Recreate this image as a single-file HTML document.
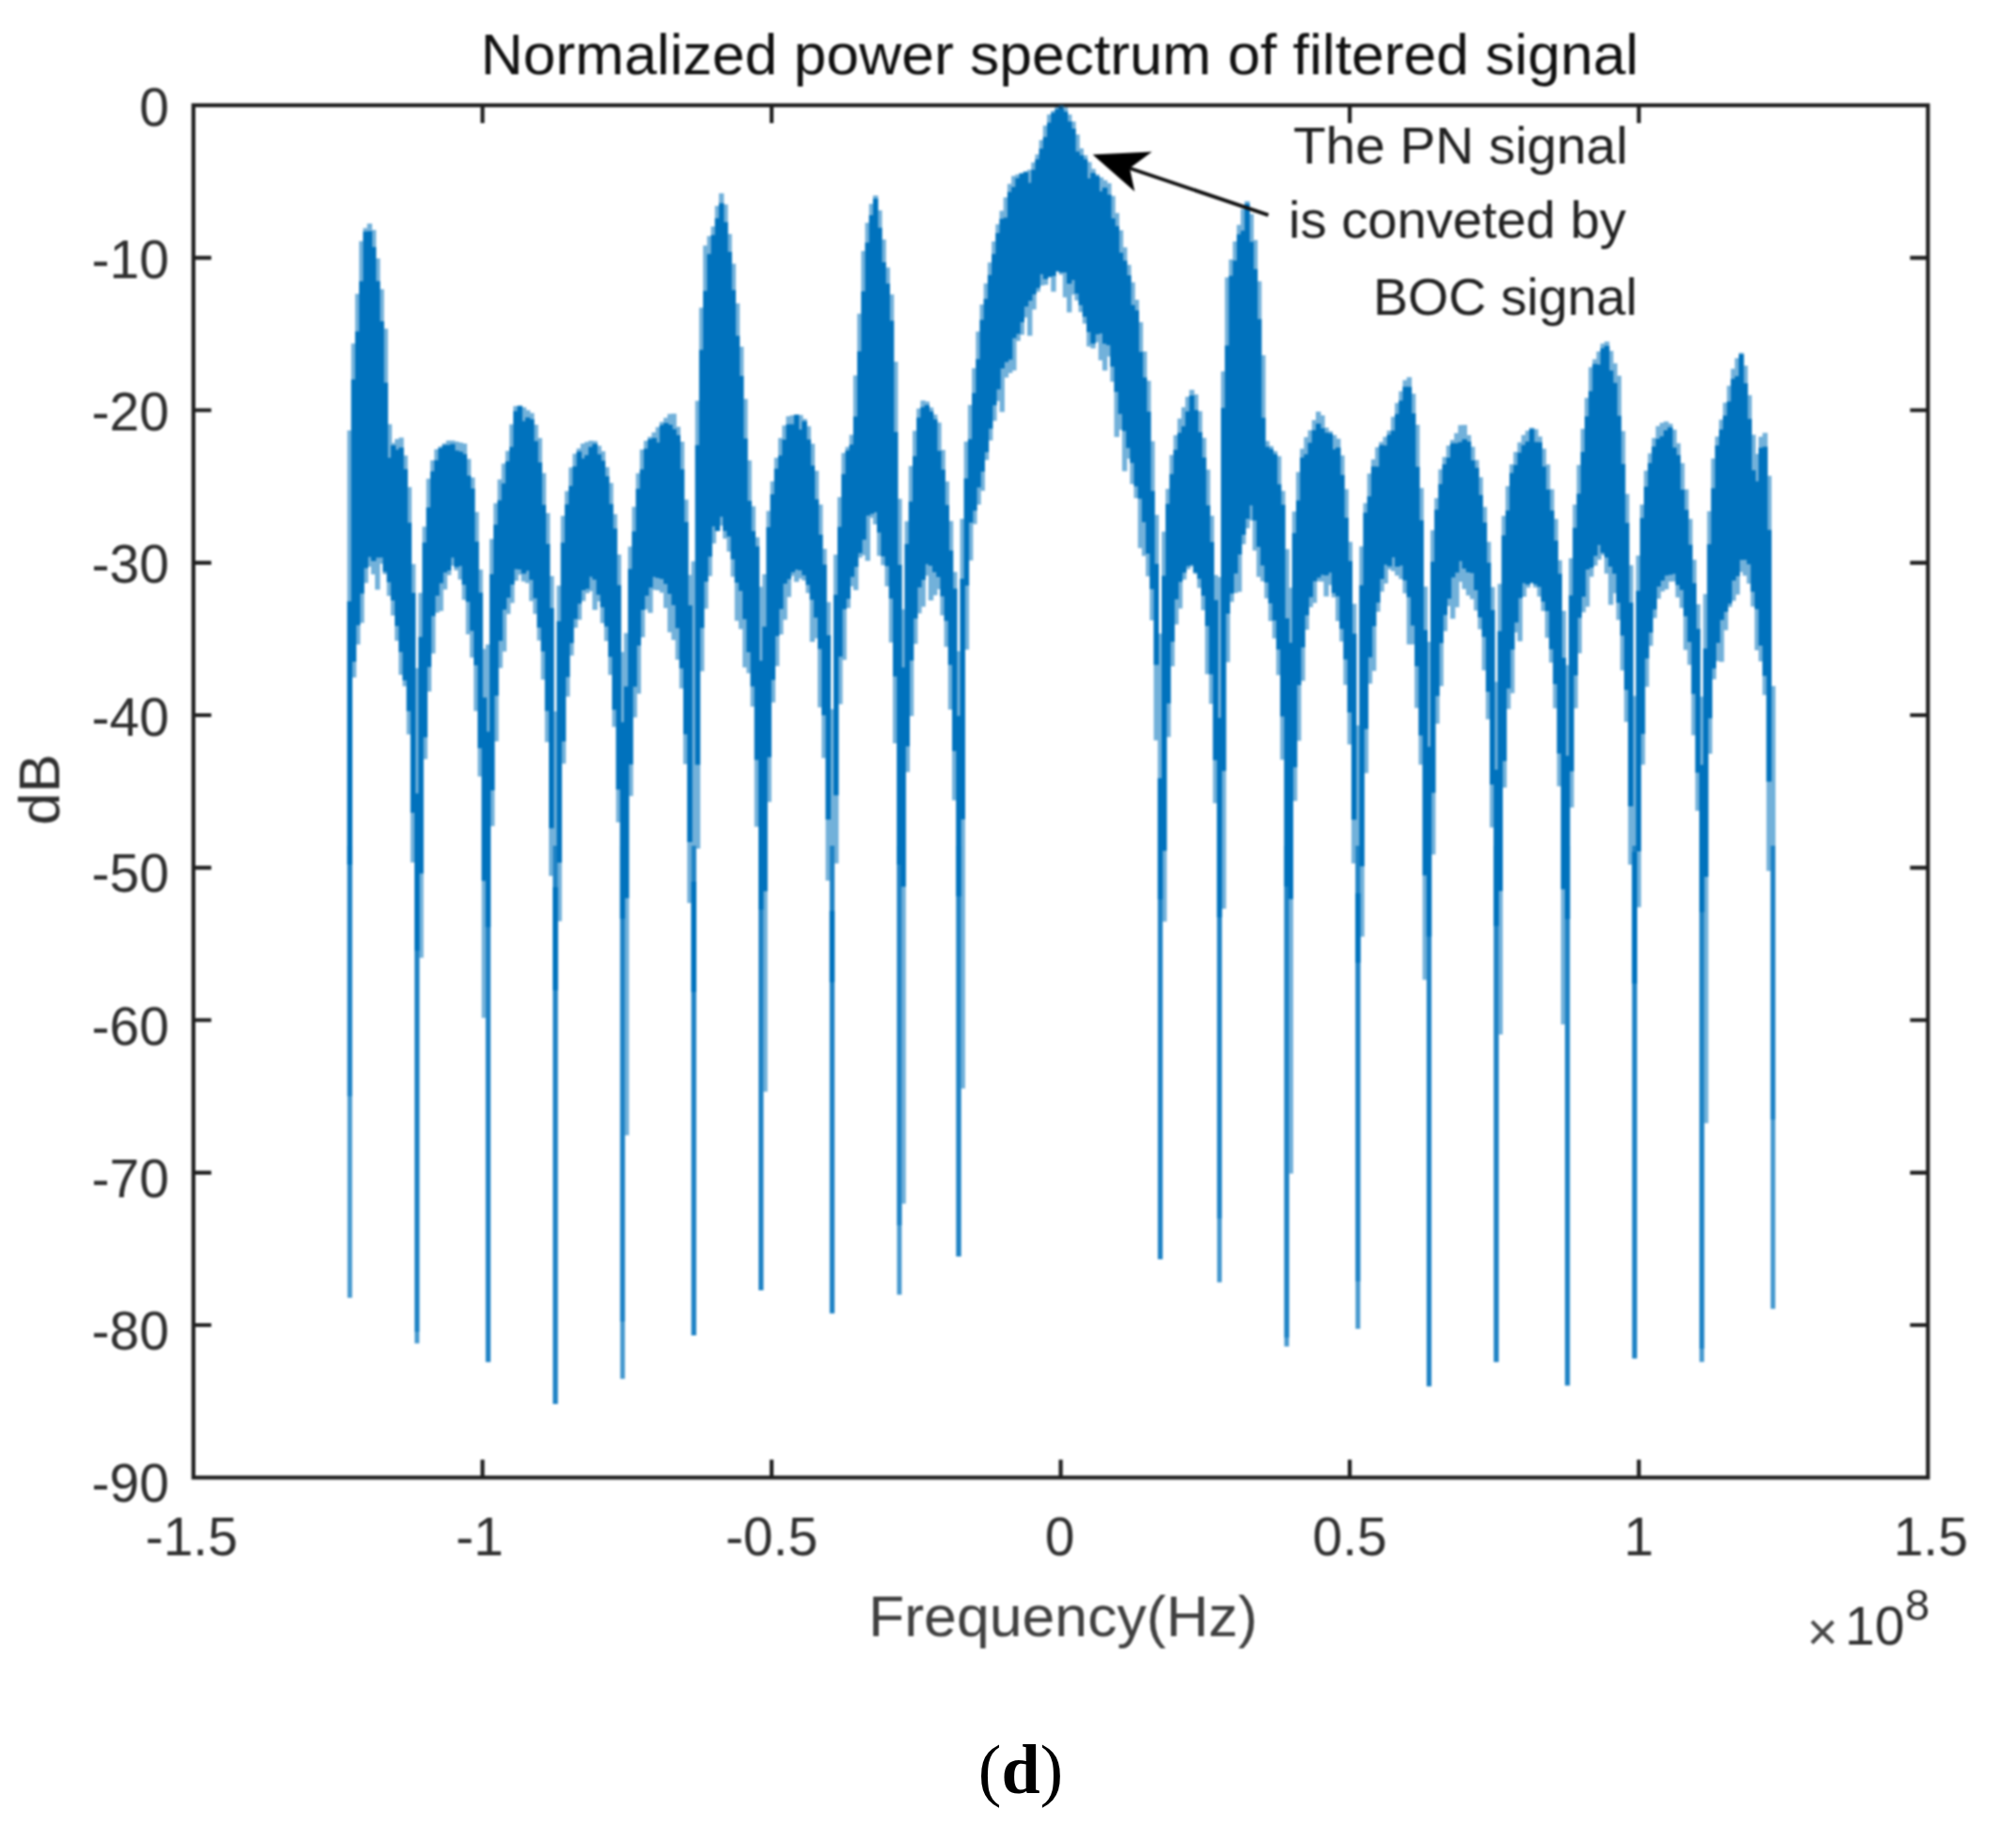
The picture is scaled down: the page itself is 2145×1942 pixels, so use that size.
<!DOCTYPE html>
<html><head><meta charset="utf-8"><title>Normalized power spectrum of filtered signal</title>
<style>html,body{margin:0;padding:0;background:#fff}body{width:2145px;height:1942px;overflow:hidden}svg{display:block}</style>
</head><body>
<svg width="2145" height="1942" viewBox="0 0 2145 1942">
<rect width="2145" height="1942" fill="#fff"/>
<defs><filter id="soft" x="0" y="0" width="100%" height="100%" filterUnits="userSpaceOnUse" color-interpolation-filters="sRGB"><feGaussianBlur stdDeviation="1.1"/></filter></defs>
<g filter="url(#soft)">
<rect width="2145" height="1800" fill="#fff"/>
<g stroke="#202020" stroke-width="4.2" fill="none" stroke-linecap="butt">
<rect x="205.8" y="112.0" width="1845.5000000000002" height="1460.3"/>
<path d="M513.4 1572.3V1553.3M513.4 112.0V131.0"/>
<path d="M821.0 1572.3V1553.3M821.0 112.0V131.0"/>
<path d="M1128.6 1572.3V1553.3M1128.6 112.0V131.0"/>
<path d="M1436.1 1572.3V1553.3M1436.1 112.0V131.0"/>
<path d="M1743.7 1572.3V1553.3M1743.7 112.0V131.0"/>
<path d="M205.8 274.3H224.8M2051.3 274.3H2032.3000000000002"/>
<path d="M205.8 436.5H224.8M2051.3 436.5H2032.3000000000002"/>
<path d="M205.8 598.8H224.8M2051.3 598.8H2032.3000000000002"/>
<path d="M205.8 761.0H224.8M2051.3 761.0H2032.3000000000002"/>
<path d="M205.8 923.3H224.8M2051.3 923.3H2032.3000000000002"/>
<path d="M205.8 1085.5H224.8M2051.3 1085.5H2032.3000000000002"/>
<path d="M205.8 1247.8H224.8M2051.3 1247.8H2032.3000000000002"/>
<path d="M205.8 1410.0H224.8M2051.3 1410.0H2032.3000000000002"/>
</g>
<g fill="#0072BD">
<g opacity="0.55">
<rect x="369.5" y="458.0" width="5.41" height="708.5"/>
<rect x="373.7" y="365.5" width="5.41" height="355.4"/>
<rect x="377.9" y="312.7" width="5.41" height="373.1"/>
<rect x="382.1" y="256.6" width="5.41" height="406.2"/>
<rect x="386.4" y="242.7" width="5.41" height="377.7"/>
<rect x="390.6" y="237.9" width="5.41" height="365.1"/>
<rect x="394.8" y="244.7" width="5.41" height="366.5"/>
<rect x="399.0" y="275.0" width="5.41" height="352.5"/>
<rect x="403.2" y="307.7" width="5.41" height="292.2"/>
<rect x="407.4" y="349.7" width="5.41" height="261.3"/>
<rect x="411.6" y="451.4" width="5.41" height="182.7"/>
<rect x="415.8" y="471.4" width="5.41" height="183.6"/>
<rect x="420.0" y="467.2" width="5.41" height="214.6"/>
<rect x="424.2" y="465.6" width="5.41" height="252.5"/>
<rect x="428.4" y="484.7" width="5.41" height="245.6"/>
<rect x="432.6" y="518.3" width="5.41" height="263.2"/>
<rect x="436.8" y="600.2" width="5.41" height="317.6"/>
<rect x="441.0" y="711.0" width="5.41" height="706.1"/>
<rect x="445.2" y="630.9" width="5.41" height="388.3"/>
<rect x="449.4" y="560.4" width="5.41" height="247.4"/>
<rect x="453.6" y="509.4" width="5.41" height="226.5"/>
<rect x="457.9" y="489.8" width="5.41" height="205.6"/>
<rect x="462.1" y="478.1" width="5.41" height="173.9"/>
<rect x="466.3" y="475.0" width="5.41" height="175.2"/>
<rect x="470.5" y="471.8" width="5.41" height="155.5"/>
<rect x="474.7" y="468.8" width="5.41" height="143.2"/>
<rect x="478.9" y="468.8" width="5.41" height="133.2"/>
<rect x="483.1" y="469.9" width="5.41" height="137.0"/>
<rect x="487.3" y="470.9" width="5.41" height="145.8"/>
<rect x="491.5" y="472.0" width="5.41" height="166.3"/>
<rect x="495.7" y="488.3" width="5.41" height="186.7"/>
<rect x="499.9" y="508.1" width="5.41" height="191.6"/>
<rect x="504.1" y="544.8" width="5.41" height="211.8"/>
<rect x="508.3" y="606.1" width="5.41" height="220.2"/>
<rect x="512.5" y="690.5" width="5.41" height="392.7"/>
<rect x="516.7" y="685.8" width="5.41" height="763.5"/>
<rect x="520.9" y="573.5" width="5.41" height="305.6"/>
<rect x="525.1" y="535.5" width="5.41" height="253.4"/>
<rect x="529.4" y="510.2" width="5.41" height="200.6"/>
<rect x="533.6" y="493.3" width="5.41" height="200.0"/>
<rect x="537.8" y="479.8" width="5.41" height="173.6"/>
<rect x="542.0" y="451.5" width="5.41" height="190.1"/>
<rect x="546.2" y="432.1" width="5.41" height="185.9"/>
<rect x="550.4" y="431.4" width="5.41" height="180.1"/>
<rect x="554.6" y="433.4" width="5.41" height="185.3"/>
<rect x="558.8" y="436.5" width="5.41" height="184.0"/>
<rect x="563.0" y="439.5" width="5.41" height="200.1"/>
<rect x="567.2" y="451.9" width="5.41" height="201.4"/>
<rect x="571.4" y="466.1" width="5.41" height="215.5"/>
<rect x="575.6" y="503.4" width="5.41" height="219.8"/>
<rect x="579.8" y="546.0" width="5.41" height="243.7"/>
<rect x="584.0" y="613.0" width="5.41" height="319.1"/>
<rect x="588.2" y="757.0" width="5.41" height="737.0"/>
<rect x="592.4" y="623.2" width="5.41" height="357.1"/>
<rect x="596.7" y="548.9" width="5.41" height="263.7"/>
<rect x="600.9" y="522.6" width="5.41" height="218.7"/>
<rect x="605.1" y="497.4" width="5.41" height="200.2"/>
<rect x="609.3" y="482.8" width="5.41" height="185.2"/>
<rect x="613.5" y="477.2" width="5.41" height="182.3"/>
<rect x="617.7" y="472.0" width="5.41" height="167.6"/>
<rect x="621.9" y="470.3" width="5.41" height="160.9"/>
<rect x="626.1" y="468.9" width="5.41" height="160.2"/>
<rect x="630.3" y="469.3" width="5.41" height="179.7"/>
<rect x="634.5" y="474.3" width="5.41" height="165.7"/>
<rect x="638.7" y="480.2" width="5.41" height="182.9"/>
<rect x="642.9" y="497.1" width="5.41" height="185.0"/>
<rect x="647.1" y="513.9" width="5.41" height="204.3"/>
<rect x="651.3" y="547.1" width="5.41" height="226.4"/>
<rect x="655.5" y="590.1" width="5.41" height="285.0"/>
<rect x="659.7" y="693.8" width="5.41" height="712.4"/>
<rect x="663.9" y="673.7" width="5.41" height="534.4"/>
<rect x="668.2" y="581.6" width="5.41" height="265.5"/>
<rect x="672.4" y="539.3" width="5.41" height="224.1"/>
<rect x="676.6" y="503.6" width="5.41" height="234.6"/>
<rect x="680.8" y="478.3" width="5.41" height="199.8"/>
<rect x="685.0" y="469.0" width="5.41" height="179.5"/>
<rect x="689.2" y="464.8" width="5.41" height="187.4"/>
<rect x="693.4" y="460.1" width="5.41" height="167.6"/>
<rect x="697.6" y="454.5" width="5.41" height="173.6"/>
<rect x="701.8" y="448.9" width="5.41" height="181.8"/>
<rect x="706.0" y="444.6" width="5.41" height="202.4"/>
<rect x="710.2" y="440.5" width="5.41" height="232.3"/>
<rect x="714.4" y="440.2" width="5.41" height="240.8"/>
<rect x="718.6" y="454.1" width="5.41" height="247.9"/>
<rect x="722.8" y="470.0" width="5.41" height="262.6"/>
<rect x="727.0" y="531.6" width="5.41" height="281.5"/>
<rect x="731.2" y="611.8" width="5.41" height="349.1"/>
<rect x="735.5" y="597.3" width="5.41" height="823.7"/>
<rect x="739.7" y="426.5" width="5.41" height="476.5"/>
<rect x="743.9" y="327.4" width="5.41" height="386.9"/>
<rect x="748.1" y="261.3" width="5.41" height="386.4"/>
<rect x="752.3" y="251.2" width="5.41" height="361.9"/>
<rect x="756.5" y="241.0" width="5.41" height="337.3"/>
<rect x="760.7" y="219.1" width="5.41" height="346.1"/>
<rect x="764.9" y="205.7" width="5.41" height="353.7"/>
<rect x="769.1" y="217.5" width="5.41" height="355.7"/>
<rect x="773.3" y="249.0" width="5.41" height="338.0"/>
<rect x="777.5" y="280.6" width="5.41" height="333.1"/>
<rect x="781.7" y="322.8" width="5.41" height="337.8"/>
<rect x="785.9" y="368.9" width="5.41" height="300.5"/>
<rect x="790.1" y="424.5" width="5.41" height="285.7"/>
<rect x="794.3" y="489.9" width="5.41" height="226.5"/>
<rect x="798.5" y="538.7" width="5.41" height="213.2"/>
<rect x="802.7" y="571.7" width="5.41" height="308.1"/>
<rect x="807.0" y="624.4" width="5.41" height="748.6"/>
<rect x="811.2" y="611.0" width="5.41" height="550.7"/>
<rect x="815.4" y="543.7" width="5.41" height="309.7"/>
<rect x="819.6" y="512.2" width="5.41" height="235.3"/>
<rect x="823.8" y="487.1" width="5.41" height="221.7"/>
<rect x="828.0" y="466.1" width="5.41" height="209.0"/>
<rect x="832.2" y="452.7" width="5.41" height="206.8"/>
<rect x="836.4" y="442.9" width="5.41" height="192.4"/>
<rect x="840.6" y="441.9" width="5.41" height="170.9"/>
<rect x="844.8" y="441.0" width="5.41" height="178.2"/>
<rect x="849.0" y="441.6" width="5.41" height="174.0"/>
<rect x="853.2" y="445.8" width="5.41" height="171.9"/>
<rect x="857.4" y="453.5" width="5.41" height="177.6"/>
<rect x="861.6" y="472.2" width="5.41" height="210.8"/>
<rect x="865.8" y="500.9" width="5.41" height="178.4"/>
<rect x="870.0" y="536.9" width="5.41" height="215.8"/>
<rect x="874.2" y="584.0" width="5.41" height="222.7"/>
<rect x="878.5" y="640.7" width="5.41" height="296.4"/>
<rect x="882.7" y="754.6" width="5.41" height="642.9"/>
<rect x="886.9" y="590.2" width="5.41" height="328.6"/>
<rect x="891.1" y="529.0" width="5.41" height="220.3"/>
<rect x="895.3" y="482.0" width="5.41" height="220.2"/>
<rect x="899.5" y="475.6" width="5.41" height="171.4"/>
<rect x="903.7" y="462.6" width="5.41" height="161.3"/>
<rect x="907.9" y="399.5" width="5.41" height="228.4"/>
<rect x="912.1" y="333.8" width="5.41" height="259.5"/>
<rect x="916.3" y="267.1" width="5.41" height="323.7"/>
<rect x="920.5" y="237.1" width="5.41" height="359.7"/>
<rect x="924.7" y="216.9" width="5.41" height="334.1"/>
<rect x="928.9" y="208.0" width="5.41" height="350.0"/>
<rect x="933.1" y="223.8" width="5.41" height="367.7"/>
<rect x="937.3" y="254.8" width="5.41" height="346.6"/>
<rect x="941.5" y="284.6" width="5.41" height="339.3"/>
<rect x="945.8" y="313.3" width="5.41" height="370.4"/>
<rect x="950.0" y="384.9" width="5.41" height="406.1"/>
<rect x="954.2" y="530.8" width="5.41" height="773.0"/>
<rect x="958.4" y="648.4" width="5.41" height="632.4"/>
<rect x="962.6" y="554.7" width="5.41" height="266.9"/>
<rect x="966.8" y="495.8" width="5.41" height="266.2"/>
<rect x="971.0" y="458.4" width="5.41" height="226.8"/>
<rect x="975.2" y="434.7" width="5.41" height="218.0"/>
<rect x="979.4" y="426.2" width="5.41" height="219.4"/>
<rect x="983.6" y="427.3" width="5.41" height="185.3"/>
<rect x="987.8" y="433.6" width="5.41" height="205.3"/>
<rect x="992.0" y="441.2" width="5.41" height="192.2"/>
<rect x="996.2" y="449.6" width="5.41" height="177.3"/>
<rect x="1000.4" y="478.8" width="5.41" height="176.0"/>
<rect x="1004.6" y="512.3" width="5.41" height="176.0"/>
<rect x="1008.8" y="554.4" width="5.41" height="200.7"/>
<rect x="1013.0" y="608.6" width="5.41" height="243.0"/>
<rect x="1017.3" y="693.0" width="5.41" height="644.1"/>
<rect x="1021.5" y="552.1" width="5.41" height="606.2"/>
<rect x="1025.7" y="469.9" width="5.41" height="221.4"/>
<rect x="1029.9" y="430.9" width="5.41" height="165.5"/>
<rect x="1034.1" y="391.8" width="5.41" height="165.9"/>
<rect x="1038.3" y="352.8" width="5.41" height="184.2"/>
<rect x="1042.5" y="324.0" width="5.41" height="198.3"/>
<rect x="1046.7" y="301.6" width="5.41" height="187.9"/>
<rect x="1050.9" y="279.3" width="5.41" height="189.4"/>
<rect x="1055.1" y="256.9" width="5.41" height="190.9"/>
<rect x="1059.3" y="238.6" width="5.41" height="188.2"/>
<rect x="1063.5" y="224.3" width="5.41" height="214.1"/>
<rect x="1067.7" y="210.0" width="5.41" height="191.7"/>
<rect x="1071.9" y="195.7" width="5.41" height="201.3"/>
<rect x="1076.1" y="187.2" width="5.41" height="207.0"/>
<rect x="1080.3" y="185.6" width="5.41" height="177.2"/>
<rect x="1084.5" y="183.9" width="5.41" height="172.3"/>
<rect x="1088.8" y="182.3" width="5.41" height="155.5"/>
<rect x="1093.0" y="180.6" width="5.41" height="176.7"/>
<rect x="1097.2" y="172.8" width="5.41" height="156.5"/>
<rect x="1101.4" y="164.3" width="5.41" height="146.2"/>
<rect x="1105.6" y="149.0" width="5.41" height="154.8"/>
<rect x="1109.8" y="133.6" width="5.41" height="169.5"/>
<rect x="1114.0" y="121.8" width="5.41" height="169.8"/>
<rect x="1118.2" y="117.9" width="5.41" height="192.5"/>
<rect x="1122.4" y="113.9" width="5.41" height="175.2"/>
<rect x="1126.6" y="112.0" width="5.41" height="180.3"/>
<rect x="1130.8" y="114.4" width="5.41" height="202.0"/>
<rect x="1135.0" y="121.8" width="5.41" height="210.6"/>
<rect x="1139.2" y="129.3" width="5.41" height="184.2"/>
<rect x="1143.4" y="143.1" width="5.41" height="176.6"/>
<rect x="1147.6" y="157.9" width="5.41" height="174.2"/>
<rect x="1151.8" y="165.2" width="5.41" height="179.2"/>
<rect x="1156.1" y="172.4" width="5.41" height="196.3"/>
<rect x="1160.3" y="179.7" width="5.41" height="191.0"/>
<rect x="1164.5" y="185.5" width="5.41" height="178.8"/>
<rect x="1168.7" y="188.7" width="5.41" height="194.7"/>
<rect x="1172.9" y="191.8" width="5.41" height="202.5"/>
<rect x="1177.1" y="195.0" width="5.41" height="184.4"/>
<rect x="1181.3" y="208.5" width="5.41" height="197.7"/>
<rect x="1185.5" y="226.7" width="5.41" height="238.3"/>
<rect x="1189.7" y="245.0" width="5.41" height="212.4"/>
<rect x="1193.9" y="263.2" width="5.41" height="238.2"/>
<rect x="1198.1" y="281.8" width="5.41" height="206.3"/>
<rect x="1202.3" y="300.4" width="5.41" height="214.7"/>
<rect x="1206.5" y="319.0" width="5.41" height="211.1"/>
<rect x="1210.7" y="342.8" width="5.41" height="240.4"/>
<rect x="1214.9" y="374.0" width="5.41" height="217.6"/>
<rect x="1219.1" y="405.2" width="5.41" height="208.1"/>
<rect x="1223.3" y="469.5" width="5.41" height="190.6"/>
<rect x="1227.6" y="547.9" width="5.41" height="239.9"/>
<rect x="1231.8" y="674.2" width="5.41" height="665.8"/>
<rect x="1236.0" y="565.7" width="5.41" height="415.0"/>
<rect x="1240.2" y="520.2" width="5.41" height="264.1"/>
<rect x="1244.4" y="484.1" width="5.41" height="224.9"/>
<rect x="1248.6" y="463.1" width="5.41" height="201.4"/>
<rect x="1252.8" y="445.4" width="5.41" height="202.1"/>
<rect x="1257.0" y="433.4" width="5.41" height="183.3"/>
<rect x="1261.2" y="422.2" width="5.41" height="183.5"/>
<rect x="1265.4" y="414.8" width="5.41" height="188.0"/>
<rect x="1269.6" y="419.7" width="5.41" height="191.0"/>
<rect x="1273.8" y="437.5" width="5.41" height="188.1"/>
<rect x="1278.0" y="465.9" width="5.41" height="183.4"/>
<rect x="1282.2" y="499.7" width="5.41" height="217.7"/>
<rect x="1286.4" y="548.8" width="5.41" height="200.2"/>
<rect x="1290.6" y="611.9" width="5.41" height="242.8"/>
<rect x="1294.8" y="614.0" width="5.41" height="682.6"/>
<rect x="1299.1" y="395.2" width="5.41" height="571.8"/>
<rect x="1303.3" y="295.2" width="5.41" height="409.4"/>
<rect x="1307.5" y="276.1" width="5.41" height="364.4"/>
<rect x="1311.7" y="256.9" width="5.41" height="374.2"/>
<rect x="1315.9" y="239.3" width="5.41" height="390.5"/>
<rect x="1320.1" y="222.4" width="5.41" height="356.7"/>
<rect x="1324.3" y="214.0" width="5.41" height="348.2"/>
<rect x="1328.5" y="227.8" width="5.41" height="326.0"/>
<rect x="1332.7" y="255.4" width="5.41" height="330.4"/>
<rect x="1336.9" y="299.3" width="5.41" height="314.6"/>
<rect x="1341.1" y="378.0" width="5.41" height="240.6"/>
<rect x="1345.3" y="469.3" width="5.41" height="167.4"/>
<rect x="1349.5" y="474.7" width="5.41" height="186.2"/>
<rect x="1353.7" y="480.0" width="5.41" height="199.4"/>
<rect x="1357.9" y="485.4" width="5.41" height="233.0"/>
<rect x="1362.1" y="522.4" width="5.41" height="286.1"/>
<rect x="1366.4" y="584.3" width="5.41" height="839.0"/>
<rect x="1370.6" y="625.4" width="5.41" height="623.4"/>
<rect x="1374.8" y="544.3" width="5.41" height="308.0"/>
<rect x="1379.0" y="502.3" width="5.41" height="286.0"/>
<rect x="1383.2" y="477.5" width="5.41" height="247.0"/>
<rect x="1387.4" y="465.2" width="5.41" height="204.9"/>
<rect x="1391.6" y="457.8" width="5.41" height="188.3"/>
<rect x="1395.8" y="447.0" width="5.41" height="194.6"/>
<rect x="1400.0" y="438.0" width="5.41" height="180.7"/>
<rect x="1404.2" y="442.0" width="5.41" height="176.9"/>
<rect x="1408.4" y="455.0" width="5.41" height="179.7"/>
<rect x="1412.6" y="458.9" width="5.41" height="163.6"/>
<rect x="1416.8" y="462.9" width="5.41" height="172.7"/>
<rect x="1421.0" y="466.8" width="5.41" height="194.1"/>
<rect x="1425.2" y="484.6" width="5.41" height="198.0"/>
<rect x="1429.4" y="520.5" width="5.41" height="208.3"/>
<rect x="1433.6" y="576.6" width="5.41" height="215.6"/>
<rect x="1437.9" y="642.5" width="5.41" height="276.3"/>
<rect x="1442.1" y="771.9" width="5.41" height="591.6"/>
<rect x="1446.3" y="581.4" width="5.41" height="415.3"/>
<rect x="1450.5" y="535.4" width="5.41" height="287.3"/>
<rect x="1454.7" y="503.9" width="5.41" height="223.6"/>
<rect x="1458.9" y="488.8" width="5.41" height="225.1"/>
<rect x="1463.1" y="475.9" width="5.41" height="175.1"/>
<rect x="1467.3" y="470.3" width="5.41" height="159.3"/>
<rect x="1471.5" y="464.8" width="5.41" height="156.1"/>
<rect x="1475.7" y="458.2" width="5.41" height="147.6"/>
<rect x="1479.9" y="443.5" width="5.41" height="164.2"/>
<rect x="1484.1" y="428.8" width="5.41" height="183.7"/>
<rect x="1488.3" y="416.3" width="5.41" height="199.9"/>
<rect x="1492.5" y="404.5" width="5.41" height="226.9"/>
<rect x="1496.7" y="401.3" width="5.41" height="284.4"/>
<rect x="1500.9" y="418.9" width="5.41" height="266.8"/>
<rect x="1505.1" y="452.0" width="5.41" height="301.4"/>
<rect x="1509.4" y="519.3" width="5.41" height="294.4"/>
<rect x="1513.6" y="624.2" width="5.41" height="418.4"/>
<rect x="1517.8" y="683.0" width="5.41" height="792.2"/>
<rect x="1522.0" y="564.2" width="5.41" height="345.1"/>
<rect x="1526.2" y="530.1" width="5.41" height="240.0"/>
<rect x="1530.4" y="499.4" width="5.41" height="230.7"/>
<rect x="1534.6" y="486.3" width="5.41" height="185.3"/>
<rect x="1538.8" y="474.1" width="5.41" height="170.8"/>
<rect x="1543.0" y="468.1" width="5.41" height="190.3"/>
<rect x="1547.2" y="460.9" width="5.41" height="185.3"/>
<rect x="1551.4" y="452.4" width="5.41" height="166.7"/>
<rect x="1555.6" y="452.2" width="5.41" height="174.6"/>
<rect x="1559.8" y="463.0" width="5.41" height="170.6"/>
<rect x="1564.0" y="475.4" width="5.41" height="162.1"/>
<rect x="1568.2" y="489.5" width="5.41" height="160.1"/>
<rect x="1572.4" y="507.8" width="5.41" height="161.8"/>
<rect x="1576.7" y="539.4" width="5.41" height="173.9"/>
<rect x="1580.9" y="576.6" width="5.41" height="188.8"/>
<rect x="1585.1" y="624.7" width="5.41" height="255.8"/>
<rect x="1589.3" y="725.5" width="5.41" height="723.8"/>
<rect x="1593.5" y="621.3" width="5.41" height="479.5"/>
<rect x="1597.7" y="548.9" width="5.41" height="289.2"/>
<rect x="1601.9" y="517.3" width="5.41" height="237.1"/>
<rect x="1606.1" y="494.1" width="5.41" height="243.5"/>
<rect x="1610.3" y="480.9" width="5.41" height="192.1"/>
<rect x="1614.5" y="470.7" width="5.41" height="211.7"/>
<rect x="1618.7" y="462.9" width="5.41" height="172.1"/>
<rect x="1622.9" y="458.3" width="5.41" height="167.0"/>
<rect x="1627.1" y="455.1" width="5.41" height="165.5"/>
<rect x="1631.3" y="456.7" width="5.41" height="168.5"/>
<rect x="1635.5" y="464.5" width="5.41" height="170.3"/>
<rect x="1639.7" y="477.4" width="5.41" height="172.8"/>
<rect x="1643.9" y="494.2" width="5.41" height="184.5"/>
<rect x="1648.2" y="520.6" width="5.41" height="184.5"/>
<rect x="1652.4" y="552.2" width="5.41" height="201.5"/>
<rect x="1656.6" y="596.2" width="5.41" height="240.5"/>
<rect x="1660.8" y="650.0" width="5.41" height="440.1"/>
<rect x="1665.0" y="707.7" width="5.41" height="766.6"/>
<rect x="1669.2" y="594.0" width="5.41" height="265.3"/>
<rect x="1673.4" y="536.9" width="5.41" height="216.8"/>
<rect x="1677.6" y="494.8" width="5.41" height="200.4"/>
<rect x="1681.8" y="456.3" width="5.41" height="195.2"/>
<rect x="1686.0" y="423.4" width="5.41" height="222.2"/>
<rect x="1690.2" y="390.7" width="5.41" height="223.0"/>
<rect x="1694.4" y="382.3" width="5.41" height="219.6"/>
<rect x="1698.6" y="374.0" width="5.41" height="221.5"/>
<rect x="1702.8" y="365.6" width="5.41" height="225.0"/>
<rect x="1707.0" y="363.5" width="5.41" height="246.9"/>
<rect x="1711.2" y="373.4" width="5.41" height="270.2"/>
<rect x="1715.4" y="386.6" width="5.41" height="244.7"/>
<rect x="1719.7" y="399.8" width="5.41" height="259.9"/>
<rect x="1723.9" y="458.7" width="5.41" height="254.7"/>
<rect x="1728.1" y="525.6" width="5.41" height="242.6"/>
<rect x="1732.3" y="601.4" width="5.41" height="318.7"/>
<rect x="1736.5" y="740.5" width="5.41" height="705.0"/>
<rect x="1740.7" y="591.2" width="5.41" height="374.2"/>
<rect x="1744.9" y="536.9" width="5.41" height="276.8"/>
<rect x="1749.1" y="500.8" width="5.41" height="230.0"/>
<rect x="1753.3" y="482.4" width="5.41" height="204.9"/>
<rect x="1757.5" y="466.1" width="5.41" height="191.6"/>
<rect x="1761.7" y="453.4" width="5.41" height="183.7"/>
<rect x="1765.9" y="449.9" width="5.41" height="179.5"/>
<rect x="1770.1" y="448.5" width="5.41" height="178.6"/>
<rect x="1774.3" y="450.9" width="5.41" height="168.0"/>
<rect x="1778.5" y="457.2" width="5.41" height="161.5"/>
<rect x="1782.7" y="471.7" width="5.41" height="164.0"/>
<rect x="1787.0" y="492.8" width="5.41" height="154.1"/>
<rect x="1791.2" y="520.7" width="5.41" height="170.9"/>
<rect x="1795.4" y="552.2" width="5.41" height="155.3"/>
<rect x="1799.6" y="595.6" width="5.41" height="186.8"/>
<rect x="1803.8" y="643.0" width="5.41" height="219.8"/>
<rect x="1808.0" y="741.3" width="5.41" height="693.8"/>
<rect x="1812.2" y="632.1" width="5.41" height="563.1"/>
<rect x="1816.4" y="544.0" width="5.41" height="258.1"/>
<rect x="1820.6" y="487.9" width="5.41" height="234.9"/>
<rect x="1824.8" y="464.5" width="5.41" height="239.0"/>
<rect x="1829.0" y="446.5" width="5.41" height="257.8"/>
<rect x="1833.2" y="428.5" width="5.41" height="242.1"/>
<rect x="1837.4" y="410.5" width="5.41" height="235.5"/>
<rect x="1841.6" y="392.4" width="5.41" height="246.9"/>
<rect x="1845.8" y="381.1" width="5.41" height="251.6"/>
<rect x="1850.0" y="375.4" width="5.41" height="233.3"/>
<rect x="1854.2" y="389.1" width="5.41" height="223.5"/>
<rect x="1858.5" y="420.5" width="5.41" height="200.6"/>
<rect x="1862.7" y="462.6" width="5.41" height="182.9"/>
<rect x="1866.9" y="483.0" width="5.41" height="208.9"/>
<rect x="1871.1" y="464.7" width="5.41" height="239.1"/>
<rect x="1875.3" y="460.6" width="5.41" height="279.0"/>
<rect x="1879.5" y="506.3" width="5.41" height="420.5"/>
<rect x="1883.7" y="730.0" width="5.41" height="461.3"/>
</g>
<g opacity="0.72">
<rect x="369.7" y="900.0" width="5" height="481.0"/>
<rect x="441.2" y="900.0" width="5" height="529.5"/>
<rect x="516.9" y="900.0" width="5" height="549.3"/>
<rect x="588.4" y="900.0" width="5" height="594.0"/>
<rect x="659.9" y="900.0" width="5" height="567.2"/>
<rect x="735.7" y="900.0" width="5" height="521.0"/>
<rect x="807.2" y="900.0" width="5" height="473.0"/>
<rect x="882.9" y="900.0" width="5" height="497.5"/>
<rect x="954.4" y="900.0" width="5" height="477.7"/>
<rect x="1017.5" y="900.0" width="5" height="437.0"/>
<rect x="1232.0" y="900.0" width="5" height="440.0"/>
<rect x="1295.0" y="900.0" width="5" height="464.5"/>
<rect x="1366.5" y="900.0" width="5" height="532.8"/>
<rect x="1442.3" y="900.0" width="5" height="514.0"/>
<rect x="1518.0" y="900.0" width="5" height="575.2"/>
<rect x="1589.5" y="900.0" width="5" height="549.3"/>
<rect x="1665.2" y="900.0" width="5" height="574.3"/>
<rect x="1736.7" y="900.0" width="5" height="545.5"/>
<rect x="1808.2" y="900.0" width="5" height="549.3"/>
<rect x="1883.9" y="900.0" width="5" height="492.7"/>
</g>
<rect x="369.5" y="639.9" width="5.41" height="280.1"/>
<rect x="373.7" y="403.8" width="5.41" height="300.3"/>
<rect x="377.9" y="352.7" width="5.41" height="312.6"/>
<rect x="382.1" y="299.3" width="5.41" height="332.3"/>
<rect x="386.4" y="246.4" width="5.41" height="358.1"/>
<rect x="390.6" y="246.1" width="5.41" height="346.6"/>
<rect x="394.8" y="262.9" width="5.41" height="334.1"/>
<rect x="399.0" y="299.2" width="5.41" height="294.1"/>
<rect x="403.2" y="341.9" width="5.41" height="251.3"/>
<rect x="407.4" y="407.3" width="5.41" height="201.1"/>
<rect x="411.6" y="487.1" width="5.41" height="132.4"/>
<rect x="415.8" y="473.9" width="5.41" height="165.0"/>
<rect x="420.0" y="478.6" width="5.41" height="187.5"/>
<rect x="424.2" y="476.3" width="5.41" height="217.5"/>
<rect x="428.4" y="499.3" width="5.41" height="224.6"/>
<rect x="432.6" y="556.3" width="5.41" height="200.4"/>
<rect x="436.8" y="630.9" width="5.41" height="233.9"/>
<rect x="441.0" y="844.3" width="5.41" height="167.3"/>
<rect x="445.2" y="677.8" width="5.41" height="251.7"/>
<rect x="449.4" y="577.4" width="5.41" height="207.1"/>
<rect x="453.6" y="540.0" width="5.41" height="169.7"/>
<rect x="457.9" y="501.6" width="5.41" height="153.9"/>
<rect x="462.1" y="489.8" width="5.41" height="144.1"/>
<rect x="466.3" y="476.9" width="5.41" height="143.7"/>
<rect x="470.5" y="473.7" width="5.41" height="135.5"/>
<rect x="474.7" y="473.6" width="5.41" height="133.4"/>
<rect x="478.9" y="472.5" width="5.41" height="120.8"/>
<rect x="483.1" y="479.5" width="5.41" height="123.9"/>
<rect x="487.3" y="480.6" width="5.41" height="121.6"/>
<rect x="491.5" y="483.3" width="5.41" height="138.9"/>
<rect x="495.7" y="506.2" width="5.41" height="134.2"/>
<rect x="499.9" y="519.9" width="5.41" height="151.4"/>
<rect x="504.1" y="576.4" width="5.41" height="131.5"/>
<rect x="508.3" y="630.7" width="5.41" height="165.4"/>
<rect x="512.5" y="742.3" width="5.41" height="195.0"/>
<rect x="516.7" y="778.6" width="5.41" height="207.9"/>
<rect x="520.9" y="611.0" width="5.41" height="230.0"/>
<rect x="525.1" y="558.3" width="5.41" height="182.0"/>
<rect x="529.4" y="532.4" width="5.41" height="149.5"/>
<rect x="533.6" y="514.4" width="5.41" height="134.3"/>
<rect x="537.8" y="490.9" width="5.41" height="145.1"/>
<rect x="542.0" y="475.6" width="5.41" height="146.4"/>
<rect x="546.2" y="437.5" width="5.41" height="168.1"/>
<rect x="550.4" y="432.2" width="5.41" height="173.8"/>
<rect x="554.6" y="448.2" width="5.41" height="162.2"/>
<rect x="558.8" y="444.3" width="5.41" height="163.0"/>
<rect x="563.0" y="446.2" width="5.41" height="170.9"/>
<rect x="567.2" y="469.4" width="5.41" height="167.2"/>
<rect x="571.4" y="492.1" width="5.41" height="175.7"/>
<rect x="575.6" y="537.3" width="5.41" height="155.9"/>
<rect x="579.8" y="578.9" width="5.41" height="177.6"/>
<rect x="584.0" y="647.1" width="5.41" height="234.2"/>
<rect x="588.2" y="944.1" width="5.41" height="109.6"/>
<rect x="592.4" y="661.1" width="5.41" height="256.8"/>
<rect x="596.7" y="577.5" width="5.41" height="211.4"/>
<rect x="600.9" y="536.7" width="5.41" height="183.7"/>
<rect x="605.1" y="517.1" width="5.41" height="167.2"/>
<rect x="609.3" y="496.3" width="5.41" height="162.4"/>
<rect x="613.5" y="480.5" width="5.41" height="161.9"/>
<rect x="617.7" y="487.9" width="5.41" height="140.1"/>
<rect x="621.9" y="484.3" width="5.41" height="142.3"/>
<rect x="626.1" y="475.6" width="5.41" height="138.1"/>
<rect x="630.3" y="472.3" width="5.41" height="144.5"/>
<rect x="634.5" y="483.4" width="5.41" height="149.4"/>
<rect x="638.7" y="490.3" width="5.41" height="155.8"/>
<rect x="642.9" y="506.9" width="5.41" height="159.7"/>
<rect x="647.1" y="536.4" width="5.41" height="162.5"/>
<rect x="651.3" y="562.5" width="5.41" height="192.7"/>
<rect x="655.5" y="622.7" width="5.41" height="217.4"/>
<rect x="659.7" y="768.5" width="5.41" height="209.1"/>
<rect x="663.9" y="730.5" width="5.41" height="225.2"/>
<rect x="668.2" y="605.5" width="5.41" height="207.9"/>
<rect x="672.4" y="565.5" width="5.41" height="165.2"/>
<rect x="676.6" y="520.2" width="5.41" height="166.7"/>
<rect x="680.8" y="499.5" width="5.41" height="149.5"/>
<rect x="685.0" y="477.5" width="5.41" height="156.4"/>
<rect x="689.2" y="467.3" width="5.41" height="157.9"/>
<rect x="693.4" y="466.1" width="5.41" height="147.7"/>
<rect x="697.6" y="470.9" width="5.41" height="144.1"/>
<rect x="701.8" y="452.3" width="5.41" height="163.8"/>
<rect x="706.0" y="450.1" width="5.41" height="171.3"/>
<rect x="710.2" y="452.0" width="5.41" height="179.9"/>
<rect x="714.4" y="456.7" width="5.41" height="187.2"/>
<rect x="718.6" y="463.1" width="5.41" height="205.3"/>
<rect x="722.8" y="499.4" width="5.41" height="211.8"/>
<rect x="727.0" y="555.5" width="5.41" height="225.8"/>
<rect x="731.2" y="644.2" width="5.41" height="251.8"/>
<rect x="735.5" y="938.2" width="5.41" height="117.3"/>
<rect x="739.7" y="473.7" width="5.41" height="340.1"/>
<rect x="743.9" y="372.3" width="5.41" height="295.9"/>
<rect x="748.1" y="309.6" width="5.41" height="309.3"/>
<rect x="752.3" y="270.3" width="5.41" height="322.0"/>
<rect x="756.5" y="250.1" width="5.41" height="310.0"/>
<rect x="760.7" y="232.3" width="5.41" height="332.6"/>
<rect x="764.9" y="216.3" width="5.41" height="333.5"/>
<rect x="769.1" y="236.4" width="5.41" height="328.5"/>
<rect x="773.3" y="268.0" width="5.41" height="302.8"/>
<rect x="777.5" y="308.7" width="5.41" height="286.4"/>
<rect x="781.7" y="357.4" width="5.41" height="262.6"/>
<rect x="785.9" y="400.1" width="5.41" height="228.7"/>
<rect x="790.1" y="466.7" width="5.41" height="192.1"/>
<rect x="794.3" y="533.0" width="5.41" height="161.0"/>
<rect x="798.5" y="565.2" width="5.41" height="165.2"/>
<rect x="802.7" y="581.5" width="5.41" height="227.1"/>
<rect x="807.0" y="703.1" width="5.41" height="264.7"/>
<rect x="811.2" y="666.8" width="5.41" height="281.5"/>
<rect x="815.4" y="561.0" width="5.41" height="244.7"/>
<rect x="819.6" y="526.0" width="5.41" height="197.5"/>
<rect x="823.8" y="498.8" width="5.41" height="178.0"/>
<rect x="828.0" y="484.7" width="5.41" height="163.3"/>
<rect x="832.2" y="467.9" width="5.41" height="153.2"/>
<rect x="836.4" y="451.6" width="5.41" height="164.7"/>
<rect x="840.6" y="451.5" width="5.41" height="157.4"/>
<rect x="844.8" y="441.5" width="5.41" height="164.6"/>
<rect x="849.0" y="457.1" width="5.41" height="149.8"/>
<rect x="853.2" y="448.3" width="5.41" height="163.9"/>
<rect x="857.4" y="467.7" width="5.41" height="154.7"/>
<rect x="861.6" y="495.5" width="5.41" height="142.7"/>
<rect x="865.8" y="531.4" width="5.41" height="125.8"/>
<rect x="870.0" y="569.0" width="5.41" height="121.5"/>
<rect x="874.2" y="600.8" width="5.41" height="160.3"/>
<rect x="878.5" y="676.0" width="5.41" height="196.1"/>
<rect x="882.7" y="969.3" width="5.41" height="75.9"/>
<rect x="886.9" y="632.9" width="5.41" height="213.4"/>
<rect x="891.1" y="560.7" width="5.41" height="138.0"/>
<rect x="895.3" y="504.5" width="5.41" height="143.7"/>
<rect x="899.5" y="479.4" width="5.41" height="157.7"/>
<rect x="903.7" y="473.1" width="5.41" height="140.7"/>
<rect x="907.9" y="443.3" width="5.41" height="159.8"/>
<rect x="912.1" y="373.9" width="5.41" height="214.7"/>
<rect x="916.3" y="310.1" width="5.41" height="264.2"/>
<rect x="920.5" y="258.2" width="5.41" height="290.4"/>
<rect x="924.7" y="229.0" width="5.41" height="317.8"/>
<rect x="928.9" y="211.4" width="5.41" height="333.7"/>
<rect x="933.1" y="242.4" width="5.41" height="324.2"/>
<rect x="937.3" y="279.1" width="5.41" height="312.9"/>
<rect x="941.5" y="301.8" width="5.41" height="300.6"/>
<rect x="945.8" y="341.3" width="5.41" height="295.6"/>
<rect x="950.0" y="459.7" width="5.41" height="260.1"/>
<rect x="954.2" y="601.1" width="5.41" height="318.9"/>
<rect x="958.4" y="710.2" width="5.41" height="233.3"/>
<rect x="962.6" y="578.9" width="5.41" height="215.3"/>
<rect x="966.8" y="533.7" width="5.41" height="169.1"/>
<rect x="971.0" y="485.4" width="5.41" height="172.7"/>
<rect x="975.2" y="444.4" width="5.41" height="180.6"/>
<rect x="979.4" y="433.3" width="5.41" height="183.7"/>
<rect x="983.6" y="431.1" width="5.41" height="169.2"/>
<rect x="987.8" y="437.9" width="5.41" height="164.1"/>
<rect x="992.0" y="446.3" width="5.41" height="162.5"/>
<rect x="996.2" y="479.8" width="5.41" height="134.2"/>
<rect x="1000.4" y="499.8" width="5.41" height="134.7"/>
<rect x="1004.6" y="537.5" width="5.41" height="123.1"/>
<rect x="1008.8" y="585.8" width="5.41" height="121.7"/>
<rect x="1013.0" y="626.4" width="5.41" height="172.7"/>
<rect x="1017.3" y="761.8" width="5.41" height="191.9"/>
<rect x="1021.5" y="615.9" width="5.41" height="255.9"/>
<rect x="1025.7" y="509.2" width="5.41" height="113.9"/>
<rect x="1029.9" y="467.3" width="5.41" height="88.8"/>
<rect x="1034.1" y="418.3" width="5.41" height="125.0"/>
<rect x="1038.3" y="382.2" width="5.41" height="136.4"/>
<rect x="1042.5" y="340.4" width="5.41" height="161.4"/>
<rect x="1046.7" y="318.1" width="5.41" height="163.0"/>
<rect x="1050.9" y="292.7" width="5.41" height="163.4"/>
<rect x="1055.1" y="270.3" width="5.41" height="160.9"/>
<rect x="1059.3" y="248.0" width="5.41" height="166.3"/>
<rect x="1063.5" y="232.9" width="5.41" height="159.1"/>
<rect x="1067.7" y="231.6" width="5.41" height="153.7"/>
<rect x="1071.9" y="204.3" width="5.41" height="178.3"/>
<rect x="1076.1" y="199.0" width="5.41" height="160.8"/>
<rect x="1080.3" y="189.6" width="5.41" height="165.7"/>
<rect x="1084.5" y="184.9" width="5.41" height="157.9"/>
<rect x="1088.8" y="183.2" width="5.41" height="143.0"/>
<rect x="1093.0" y="194.6" width="5.41" height="125.4"/>
<rect x="1097.2" y="180.7" width="5.41" height="132.5"/>
<rect x="1101.4" y="169.5" width="5.41" height="137.0"/>
<rect x="1105.6" y="158.2" width="5.41" height="133.6"/>
<rect x="1109.8" y="145.8" width="5.41" height="151.2"/>
<rect x="1114.0" y="130.5" width="5.41" height="164.3"/>
<rect x="1118.2" y="120.2" width="5.41" height="173.4"/>
<rect x="1122.4" y="116.3" width="5.41" height="172.1"/>
<rect x="1126.6" y="115.4" width="5.41" height="174.5"/>
<rect x="1130.8" y="118.9" width="5.41" height="171.0"/>
<rect x="1135.0" y="129.3" width="5.41" height="172.6"/>
<rect x="1139.2" y="137.0" width="5.41" height="161.0"/>
<rect x="1143.4" y="161.3" width="5.41" height="151.1"/>
<rect x="1147.6" y="165.3" width="5.41" height="159.4"/>
<rect x="1151.8" y="169.5" width="5.41" height="167.5"/>
<rect x="1156.1" y="189.8" width="5.41" height="163.5"/>
<rect x="1160.3" y="184.0" width="5.41" height="181.6"/>
<rect x="1164.5" y="187.4" width="5.41" height="168.3"/>
<rect x="1168.7" y="203.6" width="5.41" height="151.2"/>
<rect x="1172.9" y="199.7" width="5.41" height="166.0"/>
<rect x="1177.1" y="207.2" width="5.41" height="160.1"/>
<rect x="1181.3" y="232.4" width="5.41" height="157.7"/>
<rect x="1185.5" y="240.7" width="5.41" height="176.3"/>
<rect x="1189.7" y="268.9" width="5.41" height="171.6"/>
<rect x="1193.9" y="277.4" width="5.41" height="181.2"/>
<rect x="1198.1" y="293.0" width="5.41" height="183.7"/>
<rect x="1202.3" y="324.6" width="5.41" height="168.0"/>
<rect x="1206.5" y="330.3" width="5.41" height="187.2"/>
<rect x="1210.7" y="374.5" width="5.41" height="156.1"/>
<rect x="1214.9" y="401.7" width="5.41" height="153.9"/>
<rect x="1219.1" y="438.1" width="5.41" height="151.0"/>
<rect x="1223.3" y="522.5" width="5.41" height="104.3"/>
<rect x="1227.6" y="600.1" width="5.41" height="107.4"/>
<rect x="1231.8" y="828.2" width="5.41" height="128.7"/>
<rect x="1236.0" y="612.7" width="5.41" height="292.6"/>
<rect x="1240.2" y="536.2" width="5.41" height="212.3"/>
<rect x="1244.4" y="504.5" width="5.41" height="178.3"/>
<rect x="1248.6" y="478.7" width="5.41" height="159.0"/>
<rect x="1252.8" y="460.6" width="5.41" height="158.6"/>
<rect x="1257.0" y="453.6" width="5.41" height="155.7"/>
<rect x="1261.2" y="437.8" width="5.41" height="164.5"/>
<rect x="1265.4" y="420.9" width="5.41" height="180.2"/>
<rect x="1269.6" y="436.4" width="5.41" height="172.8"/>
<rect x="1273.8" y="459.9" width="5.41" height="155.9"/>
<rect x="1278.0" y="486.9" width="5.41" height="147.0"/>
<rect x="1282.2" y="537.8" width="5.41" height="128.3"/>
<rect x="1286.4" y="576.8" width="5.41" height="140.7"/>
<rect x="1290.6" y="638.6" width="5.41" height="170.2"/>
<rect x="1294.8" y="763.9" width="5.41" height="212.2"/>
<rect x="1299.1" y="434.1" width="5.41" height="386.2"/>
<rect x="1303.3" y="367.7" width="5.41" height="285.3"/>
<rect x="1307.5" y="293.5" width="5.41" height="338.1"/>
<rect x="1311.7" y="277.4" width="5.41" height="332.9"/>
<rect x="1315.9" y="249.4" width="5.41" height="340.6"/>
<rect x="1320.1" y="245.5" width="5.41" height="323.5"/>
<rect x="1324.3" y="216.7" width="5.41" height="335.3"/>
<rect x="1328.5" y="257.4" width="5.41" height="280.4"/>
<rect x="1332.7" y="286.4" width="5.41" height="267.4"/>
<rect x="1336.9" y="339.6" width="5.41" height="242.3"/>
<rect x="1341.1" y="444.6" width="5.41" height="157.1"/>
<rect x="1345.3" y="475.5" width="5.41" height="144.3"/>
<rect x="1349.5" y="477.9" width="5.41" height="164.1"/>
<rect x="1353.7" y="483.3" width="5.41" height="176.9"/>
<rect x="1357.9" y="515.4" width="5.41" height="175.7"/>
<rect x="1362.1" y="537.2" width="5.41" height="225.2"/>
<rect x="1366.4" y="658.0" width="5.41" height="285.3"/>
<rect x="1370.6" y="684.0" width="5.41" height="272.7"/>
<rect x="1374.8" y="567.3" width="5.41" height="249.1"/>
<rect x="1379.0" y="532.6" width="5.41" height="196.4"/>
<rect x="1383.2" y="486.9" width="5.41" height="201.9"/>
<rect x="1387.4" y="483.4" width="5.41" height="171.3"/>
<rect x="1391.6" y="471.2" width="5.41" height="164.2"/>
<rect x="1395.8" y="457.8" width="5.41" height="160.7"/>
<rect x="1400.0" y="450.8" width="5.41" height="163.9"/>
<rect x="1404.2" y="455.8" width="5.41" height="155.8"/>
<rect x="1408.4" y="460.4" width="5.41" height="151.9"/>
<rect x="1412.6" y="461.3" width="5.41" height="148.0"/>
<rect x="1416.8" y="478.2" width="5.41" height="152.9"/>
<rect x="1421.0" y="476.3" width="5.41" height="158.2"/>
<rect x="1425.2" y="505.5" width="5.41" height="163.7"/>
<rect x="1429.4" y="551.0" width="5.41" height="150.6"/>
<rect x="1433.6" y="597.1" width="5.41" height="161.0"/>
<rect x="1437.9" y="674.3" width="5.41" height="197.9"/>
<rect x="1442.1" y="950.6" width="5.41" height="73.8"/>
<rect x="1446.3" y="622.8" width="5.41" height="299.0"/>
<rect x="1450.5" y="545.6" width="5.41" height="230.1"/>
<rect x="1454.7" y="528.2" width="5.41" height="171.2"/>
<rect x="1458.9" y="496.4" width="5.41" height="169.9"/>
<rect x="1463.1" y="496.6" width="5.41" height="144.6"/>
<rect x="1467.3" y="473.6" width="5.41" height="142.5"/>
<rect x="1471.5" y="474.1" width="5.41" height="126.7"/>
<rect x="1475.7" y="462.6" width="5.41" height="140.0"/>
<rect x="1479.9" y="458.3" width="5.41" height="134.7"/>
<rect x="1484.1" y="440.6" width="5.41" height="162.4"/>
<rect x="1488.3" y="426.3" width="5.41" height="175.4"/>
<rect x="1492.5" y="411.6" width="5.41" height="205.9"/>
<rect x="1496.7" y="411.7" width="5.41" height="223.7"/>
<rect x="1500.9" y="439.9" width="5.41" height="225.7"/>
<rect x="1505.1" y="496.8" width="5.41" height="212.1"/>
<rect x="1509.4" y="553.7" width="5.41" height="228.9"/>
<rect x="1513.6" y="670.5" width="5.41" height="261.0"/>
<rect x="1517.8" y="794.6" width="5.41" height="201.9"/>
<rect x="1522.0" y="597.8" width="5.41" height="245.8"/>
<rect x="1526.2" y="542.4" width="5.41" height="198.2"/>
<rect x="1530.4" y="515.2" width="5.41" height="169.1"/>
<rect x="1534.6" y="494.1" width="5.41" height="160.3"/>
<rect x="1538.8" y="487.0" width="5.41" height="150.0"/>
<rect x="1543.0" y="471.7" width="5.41" height="142.7"/>
<rect x="1547.2" y="471.7" width="5.41" height="137.6"/>
<rect x="1551.4" y="470.5" width="5.41" height="126.6"/>
<rect x="1555.6" y="467.4" width="5.41" height="137.6"/>
<rect x="1559.8" y="469.9" width="5.41" height="139.1"/>
<rect x="1564.0" y="489.9" width="5.41" height="119.9"/>
<rect x="1568.2" y="497.9" width="5.41" height="130.1"/>
<rect x="1572.4" y="526.8" width="5.41" height="130.1"/>
<rect x="1576.7" y="556.1" width="5.41" height="121.6"/>
<rect x="1580.9" y="598.8" width="5.41" height="137.3"/>
<rect x="1585.1" y="649.2" width="5.41" height="185.6"/>
<rect x="1589.3" y="819.0" width="5.41" height="166.3"/>
<rect x="1593.5" y="671.6" width="5.41" height="276.5"/>
<rect x="1597.7" y="569.7" width="5.41" height="240.1"/>
<rect x="1601.9" y="543.3" width="5.41" height="189.3"/>
<rect x="1606.1" y="503.4" width="5.41" height="187.8"/>
<rect x="1610.3" y="494.8" width="5.41" height="167.6"/>
<rect x="1614.5" y="481.7" width="5.41" height="154.7"/>
<rect x="1618.7" y="473.6" width="5.41" height="146.9"/>
<rect x="1622.9" y="469.8" width="5.41" height="152.1"/>
<rect x="1627.1" y="456.6" width="5.41" height="163.4"/>
<rect x="1631.3" y="470.4" width="5.41" height="151.4"/>
<rect x="1635.5" y="470.6" width="5.41" height="153.8"/>
<rect x="1639.7" y="496.5" width="5.41" height="143.7"/>
<rect x="1643.9" y="521.0" width="5.41" height="129.2"/>
<rect x="1648.2" y="543.3" width="5.41" height="147.5"/>
<rect x="1652.4" y="575.3" width="5.41" height="152.6"/>
<rect x="1656.6" y="610.6" width="5.41" height="191.2"/>
<rect x="1660.8" y="700.0" width="5.41" height="246.2"/>
<rect x="1665.0" y="804.2" width="5.41" height="173.7"/>
<rect x="1669.2" y="633.6" width="5.41" height="187.1"/>
<rect x="1673.4" y="561.7" width="5.41" height="157.0"/>
<rect x="1677.6" y="525.4" width="5.41" height="132.0"/>
<rect x="1681.8" y="481.0" width="5.41" height="153.9"/>
<rect x="1686.0" y="443.1" width="5.41" height="162.9"/>
<rect x="1690.2" y="416.3" width="5.41" height="187.7"/>
<rect x="1694.4" y="387.3" width="5.41" height="204.2"/>
<rect x="1698.6" y="388.0" width="5.41" height="191.9"/>
<rect x="1702.8" y="370.6" width="5.41" height="217.7"/>
<rect x="1707.0" y="368.1" width="5.41" height="225.1"/>
<rect x="1711.2" y="394.3" width="5.41" height="208.6"/>
<rect x="1715.4" y="407.5" width="5.41" height="203.0"/>
<rect x="1719.7" y="442.5" width="5.41" height="198.9"/>
<rect x="1723.9" y="493.8" width="5.41" height="182.5"/>
<rect x="1728.1" y="556.5" width="5.41" height="177.6"/>
<rect x="1732.3" y="641.3" width="5.41" height="216.7"/>
<rect x="1736.5" y="906.6" width="5.41" height="140.0"/>
<rect x="1740.7" y="628.8" width="5.41" height="277.1"/>
<rect x="1744.9" y="551.3" width="5.41" height="229.6"/>
<rect x="1749.1" y="517.9" width="5.41" height="182.7"/>
<rect x="1753.3" y="492.8" width="5.41" height="180.3"/>
<rect x="1757.5" y="475.2" width="5.41" height="173.3"/>
<rect x="1761.7" y="467.0" width="5.41" height="157.2"/>
<rect x="1765.9" y="464.3" width="5.41" height="153.5"/>
<rect x="1770.1" y="457.9" width="5.41" height="154.5"/>
<rect x="1774.3" y="454.7" width="5.41" height="156.9"/>
<rect x="1778.5" y="476.3" width="5.41" height="134.3"/>
<rect x="1782.7" y="484.3" width="5.41" height="138.2"/>
<rect x="1787.0" y="521.1" width="5.41" height="106.7"/>
<rect x="1791.2" y="542.6" width="5.41" height="113.1"/>
<rect x="1795.4" y="579.7" width="5.41" height="103.4"/>
<rect x="1799.6" y="620.6" width="5.41" height="117.8"/>
<rect x="1803.8" y="669.3" width="5.41" height="152.9"/>
<rect x="1808.0" y="813.9" width="5.41" height="156.7"/>
<rect x="1812.2" y="690.2" width="5.41" height="242.8"/>
<rect x="1816.4" y="579.2" width="5.41" height="185.1"/>
<rect x="1820.6" y="519.6" width="5.41" height="191.7"/>
<rect x="1824.8" y="474.1" width="5.41" height="210.0"/>
<rect x="1829.0" y="457.1" width="5.41" height="202.6"/>
<rect x="1833.2" y="442.3" width="5.41" height="208.7"/>
<rect x="1837.4" y="427.3" width="5.41" height="215.1"/>
<rect x="1841.6" y="403.2" width="5.41" height="214.5"/>
<rect x="1845.8" y="400.3" width="5.41" height="212.8"/>
<rect x="1850.0" y="377.0" width="5.41" height="218.8"/>
<rect x="1854.2" y="407.9" width="5.41" height="187.8"/>
<rect x="1858.5" y="445.8" width="5.41" height="154.6"/>
<rect x="1862.7" y="500.4" width="5.41" height="129.3"/>
<rect x="1866.9" y="512.2" width="5.41" height="135.9"/>
<rect x="1871.1" y="476.5" width="5.41" height="210.5"/>
<rect x="1875.3" y="475.4" width="5.41" height="243.8"/>
<rect x="1879.5" y="563.9" width="5.41" height="267.8"/>
</g>
<g font-family="'Liberation Sans', Arial, Helvetica, sans-serif" font-size="57" fill="#303030">
<text x="180" y="133.5" text-anchor="end">0</text>
<text x="180" y="295.8" text-anchor="end">-10</text>
<text x="180" y="458.0" text-anchor="end">-20</text>
<text x="180" y="620.3" text-anchor="end">-30</text>
<text x="180" y="782.5" text-anchor="end">-40</text>
<text x="180" y="949.3" text-anchor="end">-50</text>
<text x="180" y="1111.5" text-anchor="end">-60</text>
<text x="180" y="1273.8" text-anchor="end">-70</text>
<text x="180" y="1436.0" text-anchor="end">-80</text>
<text x="180" y="1598.3" text-anchor="end">-90</text>
<text x="203.8" y="1655" text-anchor="middle">-1.5</text>
<text x="510.4" y="1655" text-anchor="middle">-1</text>
<text x="821.0" y="1655" text-anchor="middle">-0.5</text>
<text x="1127.6" y="1655" text-anchor="middle">0</text>
<text x="1436.1" y="1655" text-anchor="middle">0.5</text>
<text x="1743.7" y="1655" text-anchor="middle">1</text>
<text x="2054.3" y="1655" text-anchor="middle">1.5</text>
<text x="1922.5" y="1755.5" fill="#484848">×</text><text x="1963" y="1749.6">10</text><text x="2027" y="1724" font-size="47">8</text>
</g>
<g font-family="'Liberation Sans', Arial, Helvetica, sans-serif" font-size="62">
<text x="1127.5" y="79.3" text-anchor="middle" fill="#111" textLength="1232" lengthAdjust="spacingAndGlyphs">Normalized power spectrum of filtered signal</text>
<text x="1131" y="1740.6" text-anchor="middle" fill="#404040" textLength="414" lengthAdjust="spacingAndGlyphs">Frequency(Hz)</text>
<text transform="translate(62.8 840) rotate(-90)" text-anchor="middle" fill="#303030">dB</text>
</g>
<g font-family="'Liberation Sans', Arial, Helvetica, sans-serif" font-size="56" fill="#222">
<text x="1376" y="173.6" textLength="356" lengthAdjust="spacingAndGlyphs">The PN signal</text>
<text x="1371" y="252.8" textLength="359" lengthAdjust="spacingAndGlyphs">is conveted by</text>
<text x="1461" y="335.4" textLength="281" lengthAdjust="spacingAndGlyphs">BOC signal</text>
</g>
<path d="M1349.5 228.8L1202 179" stroke="#111" stroke-width="3.9" fill="none"/>
<path d="M1162.6 164.5L1225.7 161.5L1202 179L1207.3 203.8Z" fill="#000"/>
</g>
<text x="1086" y="1908" text-anchor="middle" font-family="'Liberation Serif', 'Times New Roman', serif" font-size="74" fill="#000">(<tspan font-weight="bold">d</tspan>)</text>
</svg>
</body></html>
